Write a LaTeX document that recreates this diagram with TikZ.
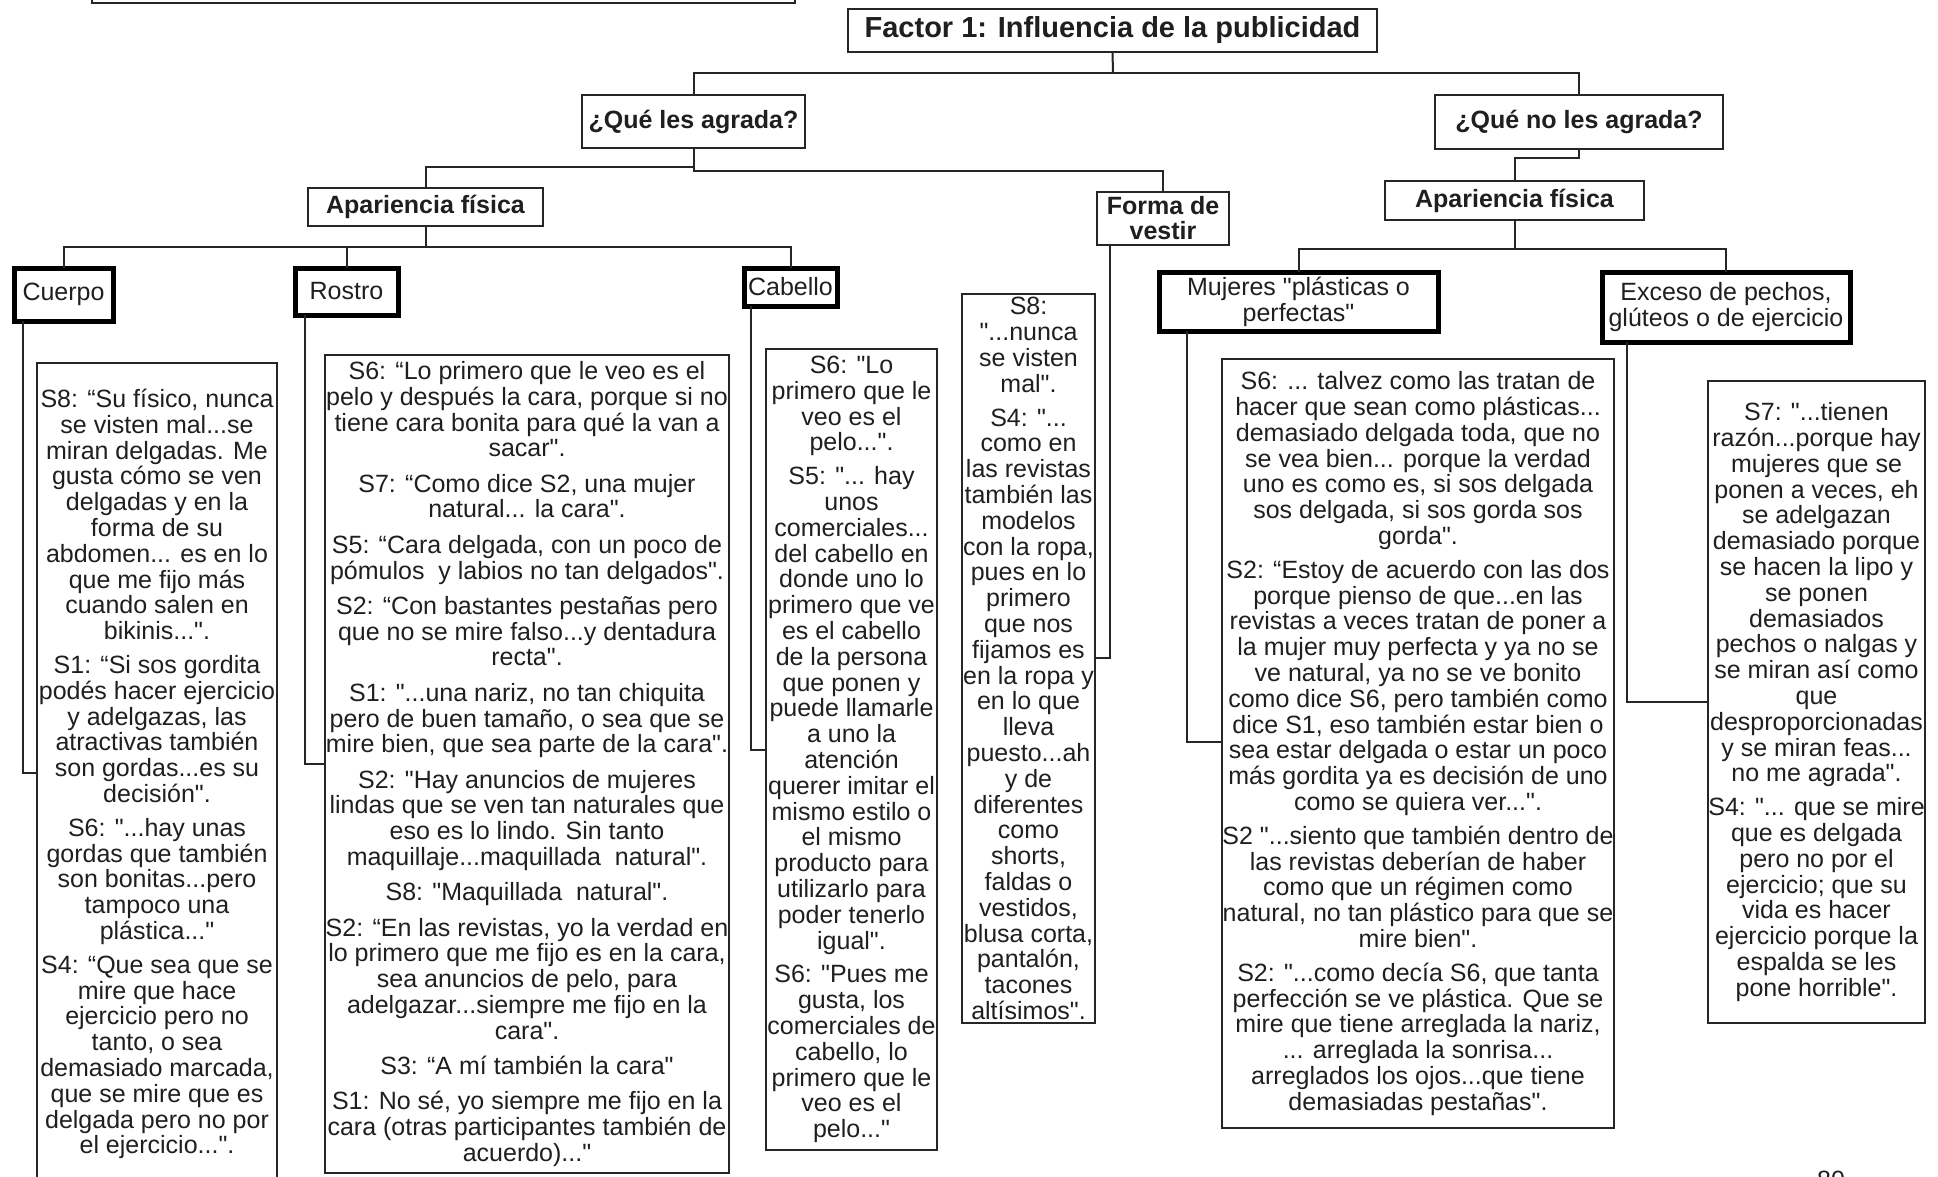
\documentclass[tikz,border=0pt]{standalone}
\usepackage{fontspec}
\setmainfont{Liberation Sans}
\newfontfamily\af{Liberation Sans}
\newcommand{\qsz}{\af\fontsize{25}{25.8}\selectfont}
\begin{document}
\begin{tikzpicture}[x=1pt,y=-1pt,
  every node/.style={inner sep=0pt, outer sep=0pt, anchor=north west, align=center, text=black!88},
  conn/.style={draw=black!85, line width=2pt},
  titlebox/.style={draw=black!85, line width=2.4pt, font=\af\bfseries\fontsize{25}{26}\selectfont},
  catbox/.style={draw=black, line width=5pt, font=\af\fontsize{25}{26}\selectfont},
  quotebox/.style={draw=black!85, line width=1.8pt, font=\qsz},
]
\useasboundingbox (0,0) rectangle (1938,1177);
\fill[white] (0,0) rectangle (1938,1177);
\clip (0,0) rectangle (1938,1177);

% header boxes
\node[titlebox, minimum width=703pt, minimum height=53pt] (tl) at (92,-50) {};
\node[titlebox, minimum width=529pt, minimum height=43pt, font=\af\bfseries\fontsize{29}{30}\selectfont] (factor) at (848,9) {Factor 1: Influencia de la publicidad};
\node[titlebox, minimum width=223pt, minimum height=53pt] (qa) at (582,95) {¿Qué les agrada?};
\node[titlebox, minimum width=288pt, minimum height=54pt] (qn) at (1435,95) {¿Qué no les agrada?};
\node[titlebox, minimum width=235pt, minimum height=38pt] (apL) at (308,188) {Apariencia física};
\node[titlebox, minimum width=132pt, minimum height=53pt, font=\af\bfseries\fontsize{25}{25}\selectfont] (forma) at (1097,192) {Forma de\\vestir};
\node[titlebox, minimum width=259pt, minimum height=39pt] (apR) at (1385,181) {Apariencia física};

% category boxes
\node[catbox, minimum width=99pt, minimum height=53pt] (cuerpo) at (14,268) {Cuerpo};
\node[catbox, minimum width=103pt, minimum height=47pt] (rostro) at (295,268) {Rostro};
\node[catbox, minimum width=93pt, minimum height=38pt] (cabello) at (744,268) {Cabello};
\node[catbox, minimum width=279pt, minimum height=59pt] (mujeres) at (1159,272) {Mujeres "plásticas o\\perfectas"};
\node[catbox, minimum width=248pt, minimum height=70pt] (exceso) at (1602,272) {Exceso de pechos,\\glúteos o de ejercicio};

% quote boxes
\node[quotebox, minimum width=240pt, minimum height=822pt] (qcuerpo) at (37,363) {S8: “Su físico, nunca\\ se visten mal...se\\ miran delgadas. Me\\ gusta cómo se ven\\ delgadas y en la\\ forma de su\\ abdomen... es en lo\\ que me fijo más\\ cuando salen en\\ bikinis...".\\[8pt]
S1: “Si sos gordita\\ podés hacer ejercicio\\ y adelgazas, las\\ atractivas también\\ son gordas...es su\\ decisión".\\[8pt]
S6: "...hay unas\\ gordas que también\\ son bonitas...pero\\ tampoco una\\ plástica..."\\[8pt]
S4: “Que sea que se\\ mire que hace\\ ejercicio pero no\\ tanto, o sea\\ demasiado marcada,\\ que se mire que es\\ delgada pero no por\\ el ejercicio...".};

\node[quotebox, minimum width=404pt, minimum height=818pt] (qrostro) at (325,355) {S6: “Lo primero que le veo es el\\ pelo y después la cara, porque si no\\ tiene cara bonita para qué la van a\\ sacar".\\[9.5pt]
S7: “Como dice S2, una mujer\\ natural... la cara".\\[9.5pt]
S5: “Cara delgada, con un poco de\\ pómulos\ \ y labios no tan delgados".\\[9.5pt]
S2: “Con bastantes pestañas pero\\ que no se mire falso...y dentadura\\ recta".\\[9.5pt]
S1: "...una nariz, no tan chiquita\\ pero de buen tamaño, o sea que se\\ mire bien, que sea parte de la cara".\\[9.5pt]
S2: "Hay anuncios de mujeres\\ lindas que se ven tan naturales que\\ eso es lo lindo. Sin tanto\\ maquillaje...maquillada\ \ natural".\\[9.5pt]
S8: "Maquillada\ \ natural".\\[9.5pt]
S2: “En las revistas, yo la verdad en\\ lo primero que me fijo es en la cara,\\ sea anuncios de pelo, para\\ adelgazar...siempre me fijo en la\\ cara".\\[9.5pt]
S3: “A mí también la cara"\\[9.5pt]
S1: No sé, yo siempre me fijo en la\\ cara (otras participantes también de\\ acuerdo)..."};

\node[quotebox, minimum width=171pt, minimum height=801pt] (qcabello) at (766,349) {S6: "Lo\\ primero que le\\ veo es el\\ pelo...".\\[8pt]
S5: "... hay\\ unos\\ comerciales...\\ del cabello en\\ donde uno lo\\ primero que ve\\ es el cabello\\ de la persona\\ que ponen y\\ puede llamarle\\ a uno la\\ atención\\ querer imitar el\\ mismo estilo o\\ el mismo\\ producto para\\ utilizarlo para\\ poder tenerlo\\ igual".\\[8pt]
S6: "Pues me\\ gusta, los\\ comerciales de\\ cabello, lo\\ primero que le\\ veo es el\\ pelo..."};

\node[quotebox, minimum width=133pt, minimum height=729pt] (qforma) at (962,294) {S8:\\ "...nunca\\ se visten\\ mal".\\[8pt]
S4: "...\\ como en\\ las revistas\\ también las\\ modelos\\ con la ropa,\\ pues en lo\\ primero\\ que nos\\ fijamos es\\ en la ropa y\\ en lo que\\ lleva\\ puesto...ah\\ y de\\ diferentes\\ como\\ shorts,\\ faldas o\\ vestidos,\\ blusa corta,\\ pantalón,\\ tacones\\ altísimos".};

\node[quotebox, minimum width=392pt, minimum height=769pt] (qmujeres) at (1222,359) {S6: ... talvez como las tratan de\\ hacer que sean como plásticas...\\ demasiado delgada toda, que no\\ se vea bien... porque la verdad\\ uno es como es, si sos delgada\\ sos delgada, si sos gorda sos\\ gorda".\\[8pt]
S2: “Estoy de acuerdo con las dos\\ porque pienso de que...en las\\ revistas a veces tratan de poner a\\ la mujer muy perfecta y ya no se\\ ve natural, ya no se ve bonito\\ como dice S6, pero también como\\ dice S1, eso también estar bien o\\ sea estar delgada o estar un poco\\ más gordita ya es decisión de uno\\ como se quiera ver...".\\[8pt]
S2 "...siento que también dentro de\\ las revistas deberían de haber\\ como que un régimen como\\ natural, no tan plástico para que se\\ mire bien".\\[8pt]
S2: "...como decía S6, que tanta\\ perfección se ve plástica. Que se\\ mire que tiene arreglada la nariz,\\ ... arreglada la sonrisa...\\ arreglados los ojos...que tiene\\ demasiadas pestañas".};

\node[quotebox, minimum width=217pt, minimum height=642pt] (qexceso) at (1708,381) {S7: "...tienen\\ razón...porque hay\\ mujeres que se\\ ponen a veces, eh\\ se adelgazan\\ demasiado porque\\ se hacen la lipo y\\ se ponen\\ demasiados\\ pechos o nalgas y\\ se miran así como\\ que\\ desproporcionadas\\ y se miran feas...\\ no me agrada".\\[8pt]
S4: "... que se mire\\ que es delgada\\ pero no por el\\ ejercicio; que su\\ vida es hacer\\ ejercicio porque la\\ espalda se les\\ pone horrible".};

\node[anchor=base, font=\af\fontsize{25}{26}\selectfont] (pg) at (1831,1188) {80};

% junction coordinates
\coordinate (j1) at (1113,73);
\coordinate (j2) at (693.5,167);
\coordinate (j3) at (693.5,171);
\coordinate (j4) at (1579,158);
\coordinate (j5) at (425.5,247);
\coordinate (j6) at (1514.5,249);
\coordinate (e1) at (23,773);
\coordinate (e2) at (305,764);
\coordinate (e3) at (751,750);
\coordinate (e4) at (1110,658);
\coordinate (e5) at (1187,742);
\coordinate (e6) at (1627,702);

% tree connectors
\draw[conn] (factor.south) -- (j1);
\draw[conn] (qa.north) |- (j1) -| (qn.north);
\draw[conn] (qa.south) -- (j2) -| (apL.north);
\draw[conn] (j2) -- (j3) -| (forma.north);
\draw[conn] (qn.south) -- (j4) -| (apR.north);
\draw[conn] (apL.south) -- (j5);
\draw[conn] (cuerpo.north) |- (j5);
\draw[conn] (rostro.north) |- (j5) -| (cabello.north);
\draw[conn] (apR.south) -- (j6);
\draw[conn] (mujeres.north) |- (j6) -| (exceso.north);

% side connectors to quote boxes
\draw[conn] (cuerpo.south -| e1) |- (qcuerpo.west |- e1);
\draw[conn] (rostro.south -| e2) |- (qrostro.west |- e2);
\draw[conn] (cabello.south -| e3) |- (qcabello.west |- e3);
\draw[conn] (forma.south -| e4) |- (qforma.east |- e4);
\draw[conn] (mujeres.south -| e5) |- (qmujeres.west |- e5);
\draw[conn] (exceso.south -| e6) |- (qexceso.west |- e6);
\end{tikzpicture}
\end{document}
